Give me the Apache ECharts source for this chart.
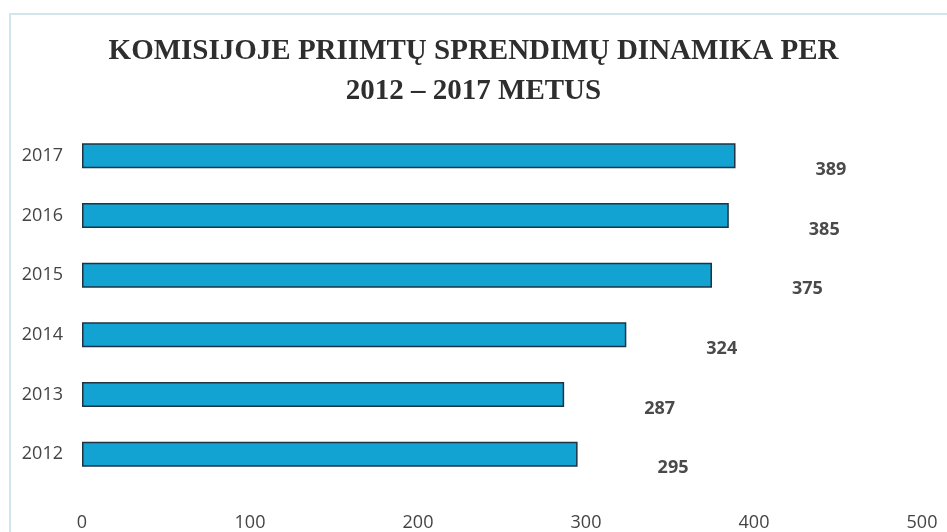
<!DOCTYPE html>
<html>
<head>
<meta charset="utf-8">
<script src="https://cdn.jsdelivr.net/npm/echarts@6/dist/echarts.min.js"></script>
<style>
html,body{margin:0;padding:0;background:#fff;}
#c{width:947px;height:532px;}
</style>
</head>
<body>
<div id="c"></div>
<script>
const titleText = 'KOMISIJOJE PRIIMTŲ SPRENDIMŲ DINAMIKA PER\n2012 – 2017 METUS';
const years = ['2012', '2013', '2014', '2015', '2016', '2017'];
const decisions = [295, 287, 324, 375, 385, 389];
const xTicks = [0, 100, 200, 300, 400, 500];

const chart = echarts.init(document.getElementById('c'));
chart.setOption({
  backgroundColor: '#ffffff',
  animation: false,
  title: {
    text: titleText,
    left: 'center',
    top: 27,
    textStyle: {
      fontFamily: 'Liberation Serif',
      fontWeight: 'bold',
      fontSize: 29,
      lineHeight: 40,
      color: '#2e2e2e'
    }
  },
  graphic: [{
    type: 'rect',
    shape: { x: 10, y: 14, width: 960, height: 540 },
    style: { fill: 'none', stroke: '#cfe6ec', lineWidth: 2 },
    silent: true
  }],
  grid: { left: 82, right: 25, top: 126, bottom: 47 },
  xAxis: {
    type: 'value',
    min: xTicks[0],
    max: xTicks[xTicks.length - 1],
    interval: 100,
    axisLine: { show: false },
    axisTick: { show: false },
    splitLine: { show: false },
    axisLabel: {
      margin: 30,
      fontFamily: 'Open Sans',
      fontSize: 18,
      color: '#444'
    }
  },
  yAxis: {
    type: 'category',
    data: years,
    axisLine: { show: false },
    axisTick: { show: false },
    splitLine: { show: false },
    axisLabel: {
      margin: 19,
      fontFamily: 'Open Sans',
      fontSize: 18,
      color: '#444'
    }
  },
  series: [{
    type: 'bar',
    data: decisions,
    barWidth: 25,
    itemStyle: {
      color: '#12a3d2',
      borderColor: '#1f3344',
      borderWidth: 1.5
    },
    label: {
      show: true,
      position: 'right',
      distance: 5,
      offset: [75, 14],
      fontFamily: 'Open Sans',
      fontWeight: 'bold',
      fontSize: 18,
      color: '#4a4a4a'
    }
  }]
});
</script>
</body>
</html>
